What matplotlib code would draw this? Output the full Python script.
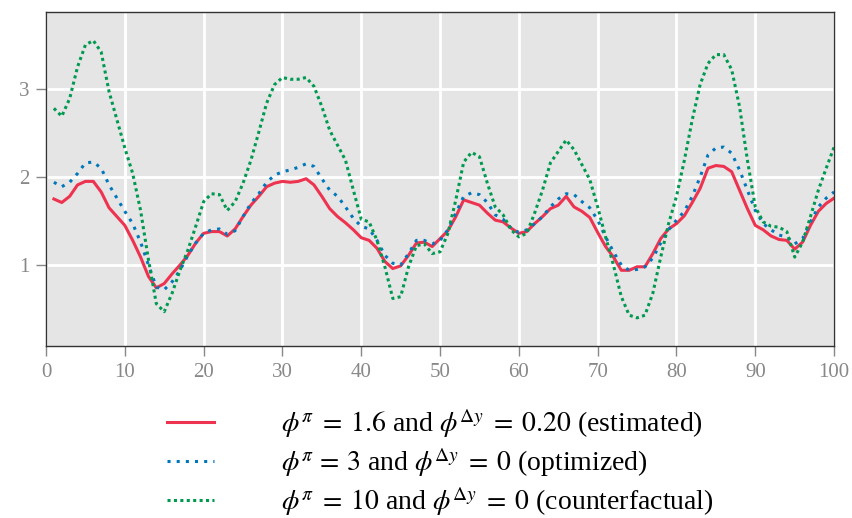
import numpy as np
import matplotlib
matplotlib.use("Agg")
import matplotlib.pyplot as plt

periods = np.arange(1, 101)

estimated = [
    1.75, 1.71, 1.78, 1.91, 1.95, 1.95, 1.83, 1.65, 1.55, 1.45,
    1.28, 1.09, 0.87, 0.74, 0.79, 0.90, 1.00, 1.11, 1.25, 1.36,
    1.38, 1.38, 1.33, 1.41, 1.55, 1.68, 1.78, 1.89, 1.93, 1.95,
    1.94, 1.95, 1.98, 1.91, 1.78, 1.64, 1.55, 1.48, 1.40, 1.31,
    1.28, 1.19, 1.04, 0.96, 0.99, 1.11, 1.25, 1.26, 1.21, 1.30,
    1.39, 1.55, 1.74, 1.71, 1.68, 1.59, 1.51, 1.49, 1.42, 1.36,
    1.38, 1.47, 1.55, 1.64, 1.68, 1.78, 1.66, 1.61, 1.54, 1.37,
    1.21, 1.09, 0.94, 0.94, 0.98, 0.98, 1.13, 1.30, 1.41, 1.47,
    1.56, 1.71, 1.87, 2.10, 2.13, 2.12, 2.06, 1.85, 1.64, 1.45,
    1.40, 1.33, 1.29, 1.28, 1.18, 1.26, 1.45, 1.61, 1.70, 1.76,
]

optimized = [
    1.94, 1.89, 1.94, 2.04, 2.16, 2.17, 2.10, 1.91, 1.76, 1.61,
    1.47, 1.26, 1.00, 0.75, 0.72, 0.81, 0.94, 1.11, 1.25, 1.36,
    1.40, 1.41, 1.35, 1.39, 1.55, 1.70, 1.81, 1.94, 2.02, 2.06,
    2.08, 2.11, 2.15, 2.12, 1.98, 1.85, 1.78, 1.66, 1.53, 1.44,
    1.41, 1.28, 1.11, 1.02, 1.00, 1.13, 1.28, 1.28, 1.24, 1.28,
    1.40, 1.59, 1.78, 1.82, 1.80, 1.71, 1.57, 1.52, 1.42, 1.37,
    1.40, 1.47, 1.55, 1.66, 1.75, 1.81, 1.80, 1.72, 1.65, 1.51,
    1.32, 1.15, 1.00, 0.94, 0.95, 0.98, 1.08, 1.25, 1.40, 1.51,
    1.61, 1.78, 2.00, 2.25, 2.33, 2.34, 2.27, 2.08, 1.85, 1.62,
    1.47, 1.40, 1.34, 1.32, 1.24, 1.30, 1.49, 1.66, 1.76, 1.83,
]

counterfactual = [
    2.78, 2.69, 2.89, 3.25, 3.50, 3.55, 3.42, 2.97, 2.65, 2.33,
    2.04, 1.62, 1.06, 0.56, 0.47, 0.68, 0.94, 1.17, 1.44, 1.72,
    1.81, 1.80, 1.62, 1.72, 1.93, 2.19, 2.51, 2.84, 3.05, 3.13,
    3.11, 3.11, 3.13, 3.03, 2.80, 2.53, 2.36, 2.19, 1.85, 1.52,
    1.49, 1.28, 0.98, 0.62, 0.64, 0.98, 1.22, 1.24, 1.13, 1.15,
    1.36, 1.74, 2.17, 2.28, 2.23, 1.93, 1.66, 1.57, 1.40, 1.32,
    1.36, 1.59, 1.85, 2.16, 2.29, 2.42, 2.31, 2.14, 1.97, 1.66,
    1.32, 1.00, 0.64, 0.43, 0.40, 0.43, 0.68, 1.09, 1.47, 1.78,
    2.19, 2.65, 3.05, 3.29, 3.39, 3.39, 3.22, 2.80, 2.19, 1.66,
    1.49, 1.44, 1.43, 1.38, 1.09, 1.26, 1.55, 1.85, 2.10, 2.34,
]

labels = [
    r"$\phi^{\pi}\;=\;1.6$ and $\phi^{\Delta y}\;=\;0.20$ (estimated)",
    r"$\phi^{\pi}\,=\,3$ and $\phi^{\Delta y}\;=\;0$ (optimized)",
    r"$\phi^{\pi}\;=\;10$ and $\phi^{\Delta y}\;=\;0$ (counterfactual)",
]

plt.rcParams["font.family"] = ["Liberation Serif", "DejaVu Serif"]
plt.rcParams["mathtext.fontset"] = "stix"

fig = plt.figure(figsize=(8.52, 5.18), dpi=100)
ax = fig.add_axes([0.054, 0.332, 0.925, 0.645])
ax.set_facecolor("#e5e5e5")

ax.plot(periods, estimated, color="#ee3350", lw=2.2, label=labels[0])
ax.plot(periods, optimized, color="#0077bb", lw=2.2, dashes=(1, 2.0), label=labels[1])
ax.plot(periods, counterfactual, color="#009950", lw=2.2, dashes=(1, 1.1), label=labels[2])

ax.set_xlim(0, 100)
ax.set_ylim(0.08, 3.875)
ax.set_xticks(range(0, 101, 10))
ax.set_yticks([1, 2, 3])
ax.grid(True, color="white", lw=2)
ax.set_axisbelow(True)
ax.tick_params(axis="both", direction="out", length=7, width=1, color="#888888",
               labelcolor="#888888", labelsize=15, pad=5)
for s in ax.spines.values():
    s.set_color("#333333")
    s.set_linewidth(1)

fig.legend(loc="upper left", bbox_to_anchor=(0.196, 0.215), frameon=False,
           fontsize=20, handlelength=1.7, handletextpad=2.4, labelspacing=0.23,
           borderpad=0, borderaxespad=0)

fig.savefig("out.png", dpi=100)
